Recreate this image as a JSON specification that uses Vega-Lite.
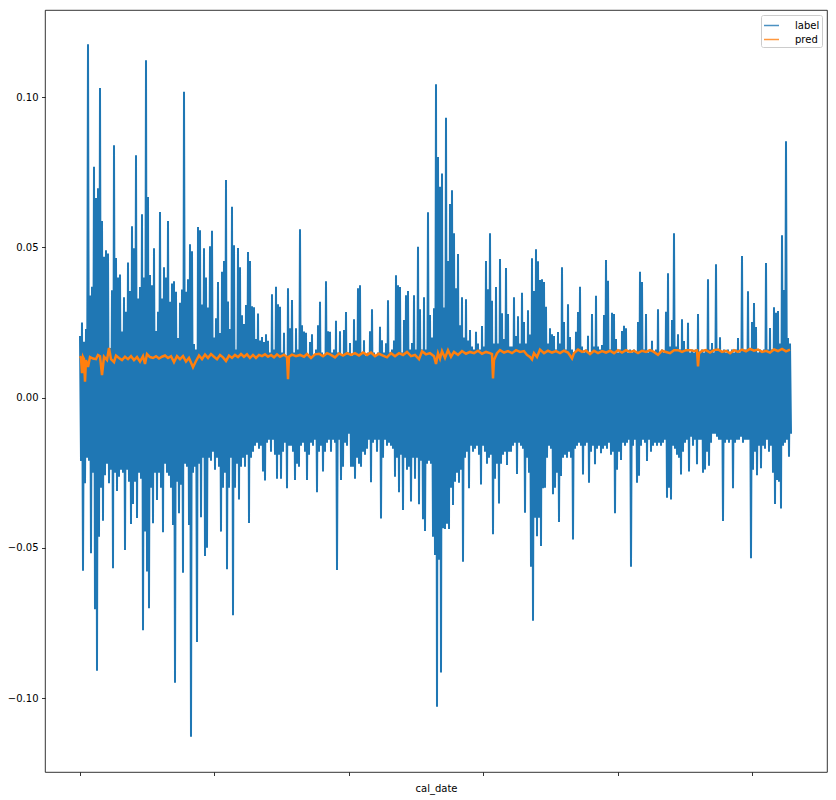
{"$schema":"https://vega.github.io/schema/vega-lite/v6.json","width":782,"height":762,"autosize":"none","padding":{"left":45,"top":10,"right":9,"bottom":28},"background":"white","config":{"view":{"stroke":"#000","strokeWidth":0.8},"font":"DejaVu Sans"},
"datasets":{"label":[
{"i":0,"v":0.0205},{"i":1,"v":-0.0211},{"i":2,"v":0.025},{"i":3,"v":-0.0576},{"i":4,"v":0.0186},{"i":5,"v":-0.0285},{"i":6,"v":0.0228},{"i":7,"v":-0.02},{"i":8,"v":0.1176},{"i":9,"v":-0.021},{"i":10,"v":0.034},{"i":11,"v":-0.0518},{"i":12,"v":0.0369},{"i":13,"v":-0.025},{"i":14,"v":0.0768},{"i":15,"v":-0.0704},{"i":16,"v":0.0664},{"i":17,"v":-0.0909},{"i":18,"v":0.0697},{"i":19,"v":-0.0463},{"i":20,"v":0.103},{"i":21,"v":-0.03},{"i":22,"v":0.0588},{"i":23,"v":-0.041},{"i":24,"v":0.0469},{"i":25,"v":-0.0258},{"i":26,"v":0.049},{"i":27,"v":-0.022},{"i":28,"v":0.048},{"i":29,"v":-0.0285},{"i":30,"v":0.0165},{"i":31,"v":-0.024},{"i":32,"v":0.0357},{"i":33,"v":-0.0568},{"i":34,"v":0.084},{"i":35,"v":-0.025},{"i":36,"v":0.0465},{"i":37,"v":-0.0311},{"i":38,"v":0.04},{"i":39,"v":-0.0263},{"i":40,"v":0.041},{"i":41,"v":-0.024},{"i":42,"v":0.022},{"i":43,"v":-0.025},{"i":44,"v":0.0334},{"i":45,"v":-0.0507},{"i":46,"v":0.0286},{"i":47,"v":-0.024},{"i":48,"v":0.045},{"i":49,"v":-0.028},{"i":50,"v":0.0355},{"i":51,"v":-0.0421},{"i":52,"v":0.057},{"i":53,"v":-0.0354},{"i":54,"v":0.0497},{"i":55,"v":-0.028},{"i":56,"v":0.0807},{"i":57,"v":-0.0401},{"i":58,"v":0.033},{"i":59,"v":-0.025},{"i":60,"v":0.0368},{"i":61,"v":-0.027},{"i":62,"v":0.061},{"i":63,"v":-0.0774},{"i":64,"v":0.04},{"i":65,"v":-0.0446},{"i":66,"v":0.1123},{"i":67,"v":-0.0579},{"i":68,"v":0.0668},{"i":69,"v":-0.0701},{"i":70,"v":0.0408},{"i":71,"v":-0.03},{"i":72,"v":0.0374},{"i":73,"v":-0.0418},{"i":74,"v":0.0497},{"i":75,"v":-0.025},{"i":76,"v":0.0222},{"i":77,"v":-0.0341},{"i":78,"v":0.0286},{"i":79,"v":-0.025},{"i":80,"v":0.0618},{"i":81,"v":-0.03},{"i":82,"v":0.033},{"i":83,"v":-0.0448},{"i":84,"v":0.0434},{"i":85,"v":-0.022},{"i":86,"v":0.04},{"i":87,"v":-0.025},{"i":88,"v":0.0588},{"i":89,"v":-0.026},{"i":90,"v":0.0319},{"i":91,"v":-0.03},{"i":92,"v":0.038},{"i":93,"v":-0.0424},{"i":94,"v":0.0387},{"i":95,"v":-0.0949},{"i":96,"v":0.0352},{"i":97,"v":-0.028},{"i":98,"v":0.0198},{"i":99,"v":-0.0385},
{"i":100,"v":0.0316},{"i":101,"v":-0.029},{"i":102,"v":0.036},{"i":103,"v":-0.0583},{"i":104,"v":0.1018},{"i":105,"v":-0.022},{"i":106,"v":0.0352},{"i":107,"v":-0.023},{"i":108,"v":0.0394},{"i":109,"v":-0.0424},{"i":110,"v":0.051},{"i":111,"v":-0.1129},{"i":112,"v":0.0487},{"i":113,"v":-0.025},{"i":114,"v":0.0178},{"i":115,"v":-0.023},{"i":116,"v":0.016},{"i":117,"v":-0.0813},{"i":118,"v":0.0568},{"i":119,"v":-0.022},{"i":120,"v":0.0557},{"i":121,"v":-0.0398},{"i":122,"v":0.031},{"i":123,"v":-0.02},{"i":124,"v":0.0497},{"i":125,"v":-0.0527},{"i":126,"v":0.04},{"i":127,"v":-0.05},{"i":128,"v":0.03},{"i":129,"v":-0.02},{"i":130,"v":0.0504},{"i":131,"v":-0.021},{"i":132,"v":0.0555},{"i":133,"v":-0.018},{"i":134,"v":0.02},{"i":135,"v":-0.024},{"i":136,"v":0.0264},{"i":137,"v":-0.02},{"i":138,"v":0.0385},{"i":139,"v":-0.023},{"i":140,"v":0.0215},{"i":141,"v":-0.0446},{"i":142,"v":0.0419},{"i":143,"v":-0.03},{"i":144,"v":0.0455},{"i":145,"v":-0.025},{"i":146,"v":0.0724},{"i":147,"v":-0.0571},{"i":148,"v":0.032},{"i":149,"v":-0.03},{"i":150,"v":0.0228},{"i":151,"v":-0.02},{"i":152,"v":0.0635},{"i":153,"v":-0.0724},{"i":154,"v":0.0507},{"i":155,"v":-0.03},{"i":156,"v":0.016},{"i":157,"v":-0.022},{"i":158,"v":0.0498},{"i":159,"v":-0.0339},{"i":160,"v":0.0434},{"i":161,"v":-0.023},{"i":162,"v":0.0274},{"i":163,"v":-0.02},{"i":164,"v":0.0245},{"i":165,"v":-0.023},{"i":166,"v":0.0308},{"i":167,"v":-0.019},{"i":168,"v":0.0485},{"i":169,"v":-0.0417},{"i":170,"v":0.0455},{"i":171,"v":-0.02},{"i":172,"v":0.0304},{"i":173,"v":-0.018},{"i":174,"v":0.0301},{"i":175,"v":-0.016},{"i":176,"v":0.0195},{"i":177,"v":-0.015},{"i":178,"v":0.028},{"i":179,"v":-0.017},{"i":180,"v":0.019},{"i":181,"v":-0.016},{"i":182,"v":0.0202},{"i":183,"v":-0.0246},{"i":184,"v":0.0185},{"i":185,"v":-0.0276},{"i":186,"v":0.0211},{"i":187,"v":-0.015},{"i":188,"v":0.0189},{"i":189,"v":-0.014},{"i":190,"v":0.015},{"i":191,"v":-0.018},{"i":192,"v":0.0344},{"i":193,"v":-0.014},{"i":194,"v":0.016},{"i":195,"v":-0.019},{"i":196,"v":0.0369},{"i":197,"v":-0.027},{"i":198,"v":0.0311},{"i":199,"v":-0.019},
{"i":200,"v":0.0302},{"i":201,"v":-0.027},{"i":202,"v":0.015},{"i":203,"v":-0.018},{"i":204,"v":0.0216},{"i":205,"v":-0.015},{"i":206,"v":0.014},{"i":207,"v":-0.0302},{"i":208,"v":0.0364},{"i":209,"v":-0.016},{"i":210,"v":0.0231},{"i":211,"v":-0.016},{"i":212,"v":0.0325},{"i":213,"v":-0.018},{"i":214,"v":0.015},{"i":215,"v":-0.0274},{"i":216,"v":0.0231},{"i":217,"v":-0.022},{"i":218,"v":0.016},{"i":219,"v":-0.023},{"i":220,"v":0.056},{"i":221,"v":-0.016},{"i":222,"v":0.0241},{"i":223,"v":-0.015},{"i":224,"v":0.022},{"i":225,"v":-0.018},{"i":226,"v":0.0216},{"i":227,"v":-0.0274},{"i":228,"v":0.014},{"i":229,"v":-0.019},{"i":230,"v":0.0185},{"i":231,"v":-0.015},{"i":232,"v":0.0211},{"i":233,"v":-0.016},{"i":234,"v":0.014},{"i":235,"v":-0.014},{"i":236,"v":0.016},{"i":237,"v":-0.0315},{"i":238,"v":0.0241},{"i":239,"v":-0.018},{"i":240,"v":0.0319},{"i":241,"v":-0.016},{"i":242,"v":0.015},{"i":243,"v":-0.0246},{"i":244,"v":0.014},{"i":245,"v":-0.018},{"i":246,"v":0.0387},{"i":247,"v":-0.015},{"i":248,"v":0.0221},{"i":249,"v":-0.014},{"i":250,"v":0.0219},{"i":251,"v":-0.018},{"i":252,"v":0.015},{"i":253,"v":-0.014},{"i":254,"v":0.016},{"i":255,"v":-0.015},{"i":256,"v":0.0256},{"i":257,"v":-0.0574},{"i":258,"v":0.015},{"i":259,"v":-0.014},{"i":260,"v":0.0221},{"i":261,"v":-0.0274},{"i":262,"v":0.014},{"i":263,"v":-0.023},{"i":264,"v":0.0225},{"i":265,"v":-0.015},{"i":266,"v":0.0285},{"i":267,"v":-0.016},{"i":268,"v":0.015},{"i":269,"v":-0.012},{"i":270,"v":0.0182},{"i":271,"v":-0.023},{"i":272,"v":0.014},{"i":273,"v":-0.023},{"i":274,"v":0.0261},{"i":275,"v":-0.027},{"i":276,"v":0.019},{"i":277,"v":-0.02},{"i":278,"v":0.0364},{"i":279,"v":-0.022},{"i":280,"v":0.0374},{"i":281,"v":-0.023},{"i":282,"v":0.015},{"i":283,"v":-0.018},{"i":284,"v":0.0191},{"i":285,"v":-0.019},{"i":286,"v":0.014},{"i":287,"v":-0.017},{"i":288,"v":0.015},{"i":289,"v":-0.014},{"i":290,"v":0.0221},{"i":291,"v":-0.0282},{"i":292,"v":0.0294},{"i":293,"v":-0.015},{"i":294,"v":0.015},{"i":295,"v":-0.014},{"i":296,"v":0.014},{"i":297,"v":-0.018},{"i":298,"v":0.015},{"i":299,"v":-0.014},
{"i":300,"v":0.0236},{"i":301,"v":-0.0402},{"i":302,"v":0.0191},{"i":303,"v":-0.02},{"i":304,"v":0.015},{"i":305,"v":-0.014},{"i":306,"v":0.0181},{"i":307,"v":-0.016},{"i":308,"v":0.0324},{"i":309,"v":-0.015},{"i":310,"v":0.015},{"i":311,"v":-0.016},{"i":312,"v":0.016},{"i":313,"v":-0.017},{"i":314,"v":0.019},{"i":315,"v":-0.0263},{"i":316,"v":0.0407},{"i":317,"v":-0.02},{"i":318,"v":0.0374},{"i":319,"v":-0.0315},{"i":320,"v":0.0368},{"i":321,"v":-0.019},{"i":322,"v":0.015},{"i":323,"v":-0.0374},{"i":324,"v":0.0258},{"i":325,"v":-0.02},{"i":326,"v":0.0341},{"i":327,"v":-0.024},{"i":328,"v":0.0355},{"i":329,"v":-0.023},{"i":330,"v":0.016},{"i":331,"v":-0.0346},{"i":332,"v":0.0182},{"i":333,"v":-0.02},{"i":334,"v":0.0341},{"i":335,"v":-0.027},{"i":336,"v":0.016},{"i":337,"v":-0.02},{"i":338,"v":0.0502},{"i":339,"v":-0.0355},{"i":340,"v":0.0294},{"i":341,"v":-0.021},{"i":342,"v":0.016},{"i":343,"v":-0.0405},{"i":344,"v":0.0334},{"i":345,"v":-0.0444},{"i":346,"v":0.016},{"i":347,"v":-0.022},{"i":348,"v":0.0617},{"i":349,"v":-0.021},{"i":350,"v":0.0275},{"i":351,"v":-0.022},{"i":352,"v":0.02},{"i":353,"v":-0.0463},{"i":354,"v":0.0297},{"i":355,"v":-0.0524},{"i":356,"v":0.1043},{"i":357,"v":-0.1029},{"i":358,"v":0.0801},{"i":359,"v":-0.054},{"i":360,"v":0.0702},{"i":361,"v":-0.0915},{"i":362,"v":0.0746},{"i":363,"v":-0.0435},{"i":364,"v":0.03},{"i":365,"v":-0.0437},{"i":366,"v":0.0931},{"i":367,"v":-0.042},{"i":368,"v":0.0455},{"i":369,"v":-0.0437},{"i":370,"v":0.0644},{"i":371,"v":-0.03},{"i":372,"v":0.069},{"i":373,"v":-0.0357},{"i":374,"v":0.0547},{"i":375,"v":-0.028},{"i":376,"v":0.0364},{"i":377,"v":-0.025},{"i":378,"v":0.0478},{"i":379,"v":-0.0283},{"i":380,"v":0.0241},{"i":381,"v":-0.024},{"i":382,"v":0.0334},{"i":383,"v":-0.0546},{"i":384,"v":0.02},{"i":385,"v":-0.02},{"i":386,"v":0.0327},{"i":387,"v":-0.018},{"i":388,"v":0.019},{"i":389,"v":-0.0302},{"i":390,"v":0.0225},{"i":391,"v":-0.016},{"i":392,"v":0.017},{"i":393,"v":-0.018},{"i":394,"v":0.016},{"i":395,"v":-0.017},{"i":396,"v":0.0219},{"i":397,"v":-0.016},{"i":398,"v":0.018},{"i":399,"v":-0.019},
{"i":400,"v":0.016},{"i":401,"v":-0.0289},{"i":402,"v":0.0238},{"i":403,"v":-0.016},{"i":404,"v":0.017},{"i":405,"v":-0.018},{"i":406,"v":0.0455},{"i":407,"v":-0.022},{"i":408,"v":0.0361},{"i":409,"v":-0.02},{"i":410,"v":0.0547},{"i":411,"v":-0.019},{"i":412,"v":0.0322},{"i":413,"v":-0.0455},{"i":414,"v":0.018},{"i":415,"v":-0.027},{"i":416,"v":0.0368},{"i":417,"v":-0.022},{"i":418,"v":0.018},{"i":419,"v":-0.0352},{"i":420,"v":0.0461},{"i":421,"v":-0.022},{"i":422,"v":0.0281},{"i":423,"v":-0.019},{"i":424,"v":0.0195},{"i":425,"v":-0.018},{"i":426,"v":0.0431},{"i":427,"v":-0.0224},{"i":428,"v":0.0278},{"i":429,"v":-0.018},{"i":430,"v":0.017},{"i":431,"v":-0.018},{"i":432,"v":0.017},{"i":433,"v":-0.016},{"i":434,"v":0.0334},{"i":435,"v":-0.015},{"i":436,"v":0.0205},{"i":437,"v":-0.0254},{"i":438,"v":0.0271},{"i":439,"v":-0.015},{"i":440,"v":0.018},{"i":441,"v":-0.016},{"i":442,"v":0.0349},{"i":443,"v":-0.017},{"i":444,"v":0.0252},{"i":445,"v":-0.0383},{"i":446,"v":0.018},{"i":447,"v":-0.02},{"i":448,"v":0.0291},{"i":449,"v":-0.025},{"i":450,"v":0.021},{"i":451,"v":-0.0563},{"i":452,"v":0.0464},{"i":453,"v":-0.0743},{"i":454,"v":0.0355},{"i":455,"v":-0.04},{"i":456,"v":0.0494},{"i":457,"v":-0.0461},{"i":458,"v":0.0454},{"i":459,"v":-0.04},{"i":460,"v":0.0391},{"i":461,"v":-0.0494},{"i":462,"v":0.0394},{"i":463,"v":-0.0302},{"i":464,"v":0.0385},{"i":465,"v":-0.03},{"i":466,"v":0.0302},{"i":467,"v":-0.02},{"i":468,"v":0.018},{"i":469,"v":-0.016},{"i":470,"v":0.0231},{"i":471,"v":-0.017},{"i":472,"v":0.0211},{"i":473,"v":-0.0322},{"i":474,"v":0.0205},{"i":475,"v":-0.03},{"i":476,"v":0.016},{"i":477,"v":-0.025},{"i":478,"v":0.0218},{"i":479,"v":-0.0414},{"i":480,"v":0.018},{"i":481,"v":-0.0261},{"i":482,"v":0.0434},{"i":483,"v":-0.02},{"i":484,"v":0.0252},{"i":485,"v":-0.019},{"i":486,"v":0.016},{"i":487,"v":-0.02},{"i":488,"v":0.0311},{"i":489,"v":-0.018},{"i":490,"v":0.0202},{"i":491,"v":-0.02},{"i":492,"v":0.016},{"i":493,"v":-0.0472},{"i":494,"v":0.015},{"i":495,"v":-0.017},{"i":496,"v":0.0219},{"i":497,"v":-0.016},{"i":498,"v":0.0285},{"i":499,"v":-0.015},
{"i":500,"v":0.0369},{"i":501,"v":-0.016},{"i":502,"v":0.017},{"i":503,"v":-0.0256},{"i":504,"v":0.015},{"i":505,"v":-0.016},{"i":506,"v":0.016},{"i":507,"v":-0.015},{"i":508,"v":0.0206},{"i":509,"v":-0.0283},{"i":510,"v":0.015},{"i":511,"v":-0.018},{"i":512,"v":0.0278},{"i":513,"v":-0.016},{"i":514,"v":0.017},{"i":515,"v":-0.0222},{"i":516,"v":0.0339},{"i":517,"v":-0.017},{"i":518,"v":0.017},{"i":519,"v":-0.016},{"i":520,"v":0.016},{"i":521,"v":-0.0185},{"i":522,"v":0.0175},{"i":523,"v":-0.017},{"i":524,"v":0.0275},{"i":525,"v":-0.016},{"i":526,"v":0.0458},{"i":527,"v":-0.017},{"i":528,"v":0.0389},{"i":529,"v":-0.015},{"i":530,"v":0.016},{"i":531,"v":-0.019},{"i":532,"v":0.0282},{"i":533,"v":-0.018},{"i":534,"v":0.0278},{"i":535,"v":-0.0385},{"i":536,"v":0.0195},{"i":537,"v":-0.024},{"i":538,"v":0.015},{"i":539,"v":-0.018},{"i":540,"v":0.016},{"i":541,"v":-0.0208},{"i":542,"v":0.0222},{"i":543,"v":-0.015},{"i":544,"v":0.0239},{"i":545,"v":-0.016},{"i":546,"v":0.0231},{"i":547,"v":-0.015},{"i":548,"v":0.015},{"i":549,"v":-0.014},{"i":550,"v":0.016},{"i":551,"v":-0.0563},{"i":552,"v":0.015},{"i":553,"v":-0.016},{"i":554,"v":0.016},{"i":555,"v":-0.014},{"i":556,"v":0.015},{"i":557,"v":-0.0283},{"i":558,"v":0.0252},{"i":559,"v":-0.026},{"i":560,"v":0.0419},{"i":561,"v":-0.016},{"i":562,"v":0.0385},{"i":563,"v":-0.014},{"i":564,"v":0.016},{"i":565,"v":-0.015},{"i":566,"v":0.0278},{"i":567,"v":-0.0211},{"i":568,"v":0.015},{"i":569,"v":-0.014},{"i":570,"v":0.016},{"i":571,"v":-0.018},{"i":572,"v":0.0189},{"i":573,"v":-0.016},{"i":574,"v":0.015},{"i":575,"v":-0.015},{"i":576,"v":0.016},{"i":577,"v":-0.016},{"i":578,"v":0.0294},{"i":579,"v":-0.015},{"i":580,"v":0.015},{"i":581,"v":-0.016},{"i":582,"v":0.016},{"i":583,"v":-0.015},{"i":584,"v":0.015},{"i":585,"v":-0.014},{"i":586,"v":0.0286},{"i":587,"v":-0.0333},{"i":588,"v":0.0414},{"i":589,"v":-0.03},{"i":590,"v":0.017},{"i":591,"v":-0.0339},{"i":592,"v":0.0258},{"i":593,"v":-0.016},{"i":594,"v":0.0547},{"i":595,"v":-0.017},{"i":596,"v":0.017},{"i":597,"v":-0.019},{"i":598,"v":0.0211},{"i":599,"v":-0.02},
{"i":600,"v":0.016},{"i":601,"v":-0.0256},{"i":602,"v":0.0261},{"i":603,"v":-0.018},{"i":604,"v":0.0188},{"i":605,"v":-0.015},{"i":606,"v":0.016},{"i":607,"v":-0.014},{"i":608,"v":0.0249},{"i":609,"v":-0.0246},{"i":610,"v":0.015},{"i":611,"v":-0.013},{"i":612,"v":0.016},{"i":613,"v":-0.016},{"i":614,"v":0.015},{"i":615,"v":-0.014},{"i":616,"v":0.016},{"i":617,"v":-0.0222},{"i":618,"v":0.0278},{"i":619,"v":-0.014},{"i":620,"v":0.015},{"i":621,"v":-0.014},{"i":622,"v":0.016},{"i":623,"v":-0.025},{"i":624,"v":0.015},{"i":625,"v":-0.0239},{"i":626,"v":0.016},{"i":627,"v":-0.018},{"i":628,"v":0.0394},{"i":629,"v":-0.0227},{"i":630,"v":0.016},{"i":631,"v":-0.015},{"i":632,"v":0.0182},{"i":633,"v":-0.012},{"i":634,"v":0.015},{"i":635,"v":-0.012},{"i":636,"v":0.0444},{"i":637,"v":-0.013},{"i":638,"v":0.016},{"i":639,"v":-0.014},{"i":640,"v":0.0201},{"i":641,"v":-0.014},{"i":642,"v":0.015},{"i":643,"v":-0.0411},{"i":644,"v":0.016},{"i":645,"v":-0.015},{"i":646,"v":0.015},{"i":647,"v":-0.014},{"i":648,"v":0.016},{"i":649,"v":-0.015},{"i":650,"v":0.015},{"i":651,"v":-0.014},{"i":652,"v":0.016},{"i":653,"v":-0.0302},{"i":654,"v":0.015},{"i":655,"v":-0.015},{"i":656,"v":0.016},{"i":657,"v":-0.014},{"i":658,"v":0.0198},{"i":659,"v":-0.014},{"i":660,"v":0.015},{"i":661,"v":-0.013},{"i":662,"v":0.0471},{"i":663,"v":-0.015},{"i":664,"v":0.016},{"i":665,"v":-0.014},{"i":666,"v":0.016},{"i":667,"v":-0.014},{"i":668,"v":0.0354},{"i":669,"v":-0.014},{"i":670,"v":0.016},{"i":671,"v":-0.0535},{"i":672,"v":0.0252},{"i":673,"v":-0.024},{"i":674,"v":0.0315},{"i":675,"v":-0.018},{"i":676,"v":0.0235},{"i":677,"v":-0.0258},{"i":678,"v":0.015},{"i":679,"v":-0.016},{"i":680,"v":0.016},{"i":681,"v":-0.0235},{"i":682,"v":0.015},{"i":683,"v":-0.016},{"i":684,"v":0.016},{"i":685,"v":-0.017},{"i":686,"v":0.0448},{"i":687,"v":-0.014},{"i":688,"v":0.016},{"i":689,"v":-0.018},{"i":690,"v":0.0232},{"i":691,"v":-0.016},{"i":692,"v":0.016},{"i":693,"v":-0.025},{"i":694,"v":0.0301},{"i":695,"v":-0.0354},{"i":696,"v":0.0282},{"i":697,"v":-0.0274},{"i":698,"v":0.0288},{"i":699,"v":-0.028},
{"i":700,"v":0.018},{"i":701,"v":-0.0369},{"i":702,"v":0.054},{"i":703,"v":-0.016},{"i":704,"v":0.0358},{"i":705,"v":-0.015},{"i":706,"v":0.0853},{"i":707,"v":-0.014},{"i":708,"v":0.0198},{"i":709,"v":-0.0197},{"i":710,"v":0.018},{"i":711,"v":-0.012}
],
"pred":[
{"i":0,"v":0.0138},{"i":1,"v":0.0132},{"i":2,"v":0.0081},{"i":3,"v":0.0135},{"i":4,"v":0.0128},{"i":5,"v":0.0053},{"i":6,"v":0.0125},{"i":8,"v":0.0102},{"i":10,"v":0.0135},{"i":13,"v":0.013},{"i":16,"v":0.0128},{"i":18,"v":0.0142},{"i":20,"v":0.0138},{"i":22,"v":0.0075},{"i":24,"v":0.0136},{"i":27,"v":0.0125},{"i":29,"v":0.0165},{"i":31,"v":0.0128},{"i":34,"v":0.0118},{"i":36,"v":0.014},{"i":39,"v":0.0132},{"i":42,"v":0.0125},{"i":45,"v":0.0136},{"i":48,"v":0.0128},{"i":51,"v":0.0138},{"i":54,"v":0.0125},{"i":57,"v":0.0135},{"i":60,"v":0.012},{"i":63,"v":0.0138},{"i":65,"v":0.0112},{"i":67,"v":0.0145},{"i":70,"v":0.0135},{"i":73,"v":0.0132},{"i":76,"v":0.0138},{"i":79,"v":0.013},{"i":82,"v":0.0136},{"i":85,"v":0.014},{"i":88,"v":0.0132},{"i":91,"v":0.0138},{"i":94,"v":0.0118},{"i":97,"v":0.0138},{"i":100,"v":0.0128},{"i":103,"v":0.0138},{"i":106,"v":0.012},{"i":109,"v":0.0132},{"i":113,"v":0.0101},{"i":116,"v":0.0122},{"i":119,"v":0.014},{"i":122,"v":0.0128},{"i":125,"v":0.0143},{"i":128,"v":0.0132},{"i":131,"v":0.0145},{"i":134,"v":0.0136},{"i":137,"v":0.0128},{"i":140,"v":0.0142},{"i":143,"v":0.0134},{"i":146,"v":0.0122},{"i":149,"v":0.014},{"i":152,"v":0.0132},{"i":155,"v":0.0142},{"i":158,"v":0.0135},{"i":161,"v":0.0145},{"i":164,"v":0.0136},{"i":167,"v":0.0144},{"i":170,"v":0.0132},{"i":173,"v":0.0142},{"i":176,"v":0.0132},{"i":179,"v":0.0142},{"i":182,"v":0.0138},{"i":185,"v":0.0144},{"i":188,"v":0.0136},{"i":191,"v":0.0142},{"i":194,"v":0.0134},{"i":197,"v":0.0144},{"i":200,"v":0.0136},{"i":204,"v":0.0143},{"i":207,"v":0.0135},{"i":208,"v":0.0061},{"i":209,"v":0.0136},{"i":212,"v":0.0143},{"i":216,"v":0.0138},{"i":220,"v":0.0142},{"i":224,"v":0.0136},{"i":227,"v":0.0145},{"i":231,"v":0.0132},{"i":235,"v":0.0144},{"i":239,"v":0.0146},{"i":243,"v":0.0138},{"i":247,"v":0.0148},{"i":251,"v":0.0142},{"i":255,"v":0.0134},{"i":259,"v":0.0147},{"i":263,"v":0.014},{"i":267,"v":0.0148},{"i":271,"v":0.0142},{"i":275,"v":0.0148},{"i":279,"v":0.014},{"i":283,"v":0.015},{"i":287,"v":0.0142},{"i":291,"v":0.015},{"i":295,"v":0.0138},{"i":299,"v":0.0146},{"i":303,"v":0.014},{"i":307,"v":0.0134},{"i":311,"v":0.0148},{"i":315,"v":0.0138},{"i":319,"v":0.0148},{"i":323,"v":0.0142},{"i":327,"v":0.0152},{"i":331,"v":0.0138},{"i":335,"v":0.0142},{"i":339,"v":0.0128},{"i":342,"v":0.0154},{"i":346,"v":0.0144},{"i":350,"v":0.0148},{"i":354,"v":0.0138},{"i":356,"v":0.0112},{"i":358,"v":0.0148},{"i":360,"v":0.013},{"i":362,"v":0.0155},{"i":365,"v":0.0132},{"i":368,"v":0.0158},{"i":371,"v":0.0136},{"i":374,"v":0.0152},{"i":378,"v":0.0142},{"i":382,"v":0.0155},{"i":386,"v":0.0146},{"i":390,"v":0.0152},{"i":394,"v":0.0148},{"i":398,"v":0.0156},{"i":402,"v":0.0146},{"i":406,"v":0.0152},{"i":410,"v":0.0148},{"i":412,"v":0.0145},{"i":413,"v":0.0064},{"i":414,"v":0.0125},{"i":417,"v":0.0148},{"i":420,"v":0.0158},{"i":424,"v":0.015},{"i":428,"v":0.0155},{"i":432,"v":0.0148},{"i":436,"v":0.0158},{"i":440,"v":0.0152},{"i":444,"v":0.0155},{"i":447,"v":0.0142},{"i":450,"v":0.0135},{"i":452,"v":0.0127},{"i":454,"v":0.0148},{"i":457,"v":0.0135},{"i":460,"v":0.016},{"i":464,"v":0.0148},{"i":468,"v":0.0156},{"i":472,"v":0.015},{"i":476,"v":0.0155},{"i":480,"v":0.0148},{"i":484,"v":0.0156},{"i":488,"v":0.015},{"i":492,"v":0.013},{"i":494,"v":0.0148},{"i":498,"v":0.016},{"i":502,"v":0.0152},{"i":506,"v":0.0156},{"i":510,"v":0.0145},{"i":514,"v":0.0156},{"i":518,"v":0.0148},{"i":522,"v":0.0155},{"i":526,"v":0.015},{"i":530,"v":0.0156},{"i":534,"v":0.0148},{"i":538,"v":0.0158},{"i":542,"v":0.015},{"i":546,"v":0.0158},{"i":550,"v":0.0152},{"i":554,"v":0.0156},{"i":558,"v":0.0148},{"i":562,"v":0.0156},{"i":566,"v":0.0152},{"i":570,"v":0.0158},{"i":574,"v":0.0152},{"i":578,"v":0.0142},{"i":582,"v":0.0156},{"i":586,"v":0.0152},{"i":590,"v":0.0148},{"i":594,"v":0.0158},{"i":598,"v":0.0158},{"i":602,"v":0.0152},{"i":606,"v":0.0158},{"i":610,"v":0.0158},{"i":614,"v":0.0155},{"i":617,"v":0.0157},{"i":618,"v":0.0104},{"i":619,"v":0.0148},{"i":622,"v":0.0155},{"i":626,"v":0.0158},{"i":630,"v":0.015},{"i":634,"v":0.0158},{"i":638,"v":0.016},{"i":642,"v":0.0152},{"i":646,"v":0.0156},{"i":650,"v":0.0148},{"i":654,"v":0.0158},{"i":658,"v":0.0152},{"i":662,"v":0.016},{"i":666,"v":0.0154},{"i":670,"v":0.0162},{"i":674,"v":0.0156},{"i":678,"v":0.016},{"i":682,"v":0.0152},{"i":686,"v":0.0156},{"i":690,"v":0.015},{"i":694,"v":0.016},{"i":698,"v":0.0155},{"i":702,"v":0.0162},{"i":706,"v":0.0154},{"i":710,"v":0.016}
]},
"encoding":{"x":{"field":"i","type":"quantitative","title":"cal_date","scale":{"domain":[-35,747],"nice":false,"zero":false},"axis":{"values":[0,134.4,268.8,403.2,537.6,672],"labels":false,"grid":false,"domain":false,"tickColor":"#000","tickWidth":0.8,"tickSize":3.5,"titleFont":"DejaVu Sans","titleFontSize":10,"titleFontWeight":"normal","titleColor":"#000","titlePadding":8}},
"y":{"field":"v","type":"quantitative","title":null,"scale":{"domain":[-0.1246,0.129],"nice":false,"zero":false},"axis":{"values":[-0.1,-0.05,0,0.05,0.1],"format":".2f","grid":false,"domain":false,"tickColor":"#000","tickWidth":0.8,"tickSize":3.5,"labelFont":"DejaVu Sans","labelFontSize":10,"labelColor":"#000","labelPadding":3.5}}},
"layer":[
{"data":{"name":"label"},"mark":{"type":"line","strokeWidth":2,"interpolate":"linear","clip":true},"encoding":{"color":{"datum":"label","type":"nominal","scale":{"domain":["label","pred"],"range":["#1f77b4","#ff7f0e"]},"legend":{"title":null,"orient":"none","legendX":716,"legendY":5,"symbolType":"stroke","symbolSize":225,"symbolStrokeWidth":1.5,"symbolOpacity":0.8,"strokeColor":"#ccc","fillColor":"rgba(255,255,255,0.8)","cornerRadius":2,"padding":2,"labelFont":"DejaVu Sans","labelFontSize":10,"labelColor":"#000","labelOffset":15,"rowPadding":0}}}},
{"data":{"name":"pred"},"mark":{"type":"line","strokeWidth":2.5,"interpolate":"linear","clip":true},"encoding":{"color":{"datum":"pred","type":"nominal"}}}
]}
